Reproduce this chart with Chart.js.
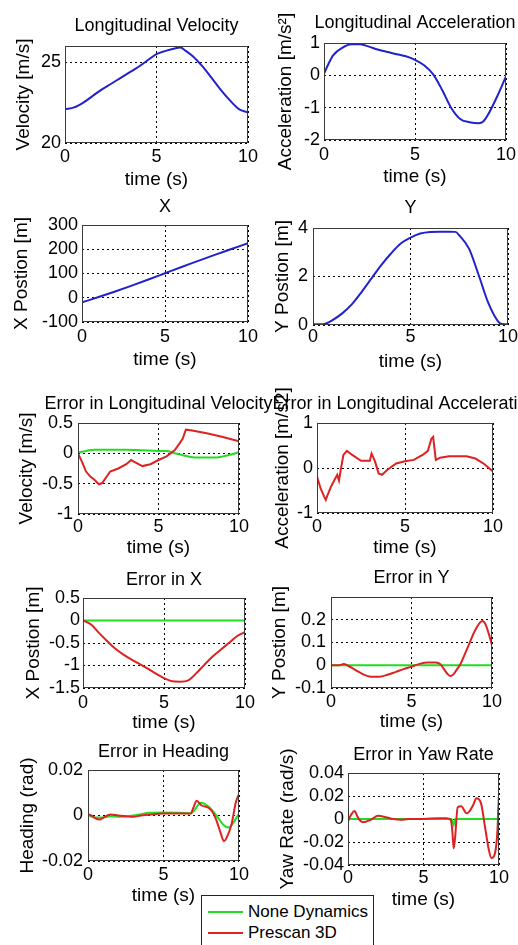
<!DOCTYPE html>
<html><head><meta charset="utf-8">
<script src="https://cdn.jsdelivr.net/npm/chart.js@4.4.0/dist/chart.umd.min.js"></script>
<style>
html,body{margin:0;padding:0;background:#fff;width:518px;height:945px;overflow:hidden;position:relative;font-family:"Liberation Sans",Arial,sans-serif;}
canvas{position:absolute;}
#legend{position:absolute;left:201px;top:895px;width:171px;height:60px;border:1px solid #222;background:#fff;font-size:17px;color:#000;}
#legend .ln{position:absolute;left:6px;width:35px;height:2px;}
#legend .lt{position:absolute;left:46px;height:20px;line-height:20px;white-space:nowrap;}
</style>
</head><body>
<div id="legend">
  <div class="ln" style="top:15px;background:#22dd22"></div><div class="lt" style="top:6px">None Dynamics</div>
  <div class="ln" style="top:36px;background:#dd2222"></div><div class="lt" style="top:27px">Prescan 3D</div>
</div>
<script>
const FONT = '"Liberation Sans", Arial, sans-serif';
const BLUE = '#2222cc', GREEN = '#22dd22', RED = '#dd2222';

// common x ticks
const xTicks = [0, 5, 10];

// Longitudinal Velocity
const t1 = [0,0.5,1,1.5,2,2.5,3,3.5,4,4.5,5,5.5,6,6.3,6.6,7,7.5,8,8.5,9,9.5,10];
const v1 = [22.08,22.2,22.5,22.9,23.3,23.65,24.0,24.35,24.7,25.1,25.5,25.7,25.85,25.9,25.7,25.35,24.75,24.04,23.3,22.65,22.1,21.9];
const yTicks1 = [20, 25];

// Longitudinal Acceleration
const t2 = [0,0.25,0.5,1,1.5,2,2.5,3,3.5,4,4.5,5,5.5,6,6.5,7,7.5,8,8.5,8.75,9,9.5,10];
const a2 = [0.05,0.36,0.62,0.85,0.96,0.96,0.88,0.79,0.72,0.65,0.59,0.48,0.31,0.03,-0.46,-1.02,-1.36,-1.45,-1.48,-1.43,-1.23,-0.67,-0.03];
const yTicks2 = [-2, -1, 0, 1];

// X position
const t3 = [0,1,2,3,4,5,6,7,8,9,10];
const x3 = [-19,3,26,50,75,101,127,152,177,201,225];
const yTicks3 = [-100, 0, 100, 200, 300];

// Y position
const t4 = [0,0.5,0.7,1,1.5,2,2.5,3,3.5,4,4.5,5,5.5,6,6.5,7,7.3,7.5,8,8.5,9,9.5,9.7,10];
const y4 = [0.03,0.03,0.07,0.2,0.48,0.86,1.37,1.92,2.47,2.95,3.36,3.6,3.77,3.84,3.85,3.85,3.84,3.7,3.15,2.05,0.89,0.14,0.04,0.03];
const yTicks4 = [0, 2, 4];

// Error in Longitudinal Velocity
const t5g = [0,0.5,1,2,3,4,5,5.5,6,6.5,7,7.5,8,8.5,9,9.5,10];
const g5 = [0.01,0.04,0.06,0.06,0.06,0.05,0.04,0.04,0.0,-0.03,-0.06,-0.07,-0.07,-0.07,-0.05,-0.02,0.02];
const t5r = [0,0.25,0.5,0.75,1,1.3,1.5,2,2.5,3,3.3,3.5,4,4.5,5,5.5,6,6.3,6.5,6.7,7,8,9,10];
const r5 = [0,-0.14,-0.3,-0.38,-0.43,-0.51,-0.49,-0.3,-0.25,-0.18,-0.11,-0.14,-0.21,-0.18,-0.11,-0.05,0.05,0.16,0.24,0.39,0.38,0.33,0.27,0.2];
const yTicks5 = [-1, -0.5, 0, 0.5];

// Error in Longitudinal Acceleration
const t6 = [0,0.2,0.4,0.5,0.6,0.8,1,1.15,1.25,1.35,1.5,1.7,2,2.5,3,3.1,3.3,3.5,3.7,4,4.5,5,5.5,6,6.3,6.5,6.6,6.75,7,7.5,8,8.5,9,9.5,10];
const r6 = [-0.19,-0.45,-0.63,-0.71,-0.6,-0.41,-0.26,-0.15,-0.28,-0.04,0.29,0.38,0.29,0.16,0.16,0.32,0.14,-0.12,-0.15,-0.04,0.1,0.15,0.18,0.29,0.38,0.65,0.69,0.18,0.23,0.26,0.26,0.26,0.21,0.09,-0.08];
const yTicks6 = [-1, 0, 1];

// Error in X
const t7g = [0, 10];
const g7 = [0, 0];
const t7r = [0,0.5,1,1.5,2,2.5,3,3.5,4,4.5,5,5.5,6,6.5,7,7.5,8,8.5,9,9.5,10];
const r7 = [0,-0.09,-0.28,-0.46,-0.63,-0.76,-0.87,-0.97,-1.07,-1.18,-1.28,-1.35,-1.36,-1.33,-1.17,-0.98,-0.8,-0.65,-0.5,-0.35,-0.26];
const yTicks7 = [-1.5, -1, -0.5, 0, 0.5];

// Error in Y
const t8g = [0, 10];
const g8 = [0, 0];
const t8r = [0,0.5,0.8,1,1.5,2,2.5,3,3.5,4,4.5,5,5.5,6,6.5,6.8,7,7.2,7.4,7.6,7.8,8,8.5,9,9.4,9.6,10];
const r8 = [0,0,0.005,0,-0.02,-0.04,-0.05,-0.05,-0.042,-0.03,-0.017,-0.006,0.006,0.012,0.012,0.004,-0.015,-0.035,-0.047,-0.04,-0.02,0,0.08,0.16,0.195,0.18,0.089];
const yTicks8 = [-0.1, 0, 0.1, 0.2];

// Error in Heading
const t9g = [0,0.5,1,1.5,2,3,3.5,4,5,6,6.8,7,7.5,8,8.5,9,9.3,9.5,10];
const g9 = [0.0001,-0.0009,-0.0009,-0.0003,-0.0006,0,0.0006,0.0012,0.0013,0.0012,0.0009,0.002,0.0056,0.0038,0,-0.0043,-0.0053,-0.0043,0.0009];
const t9r = [0,0.3,0.5,0.8,1,1.5,2,2.5,3,3.5,4,5,6,6.8,7,7.2,7.5,8,8.3,8.5,8.8,9,9.2,9.5,9.8,10];
const r9 = [0.0006,-0.0003,-0.0013,-0.0018,-0.001,0.0004,0,-0.0003,-0.0006,0,0.0003,0.0009,0.0009,0.0009,0.0038,0.0065,0.0045,0.0033,0.001,-0.002,-0.008,-0.0113,-0.0095,-0.004,0.006,0.0094];
const yTicks9 = [-0.02, 0, 0.02];

// Error in Yaw Rate
const t10g = [0,6.85,7.0,7.1,10];
const g10 = [0,0,-0.005,0,0];
const t10r = [0,0.2,0.44,0.6,0.8,1,1.5,2,2.5,3,3.5,4,5,6,6.5,6.8,6.9,7,7.1,7.26,7.5,7.85,8,8.3,8.5,8.8,9.07,9.3,9.5,9.73,9.9,9.95,10];
const r10 = [-0.002,0.0036,0.007,0.0028,-0.0013,-0.0028,-0.0007,0.0028,0.0016,0,-0.0007,0,0,0.0007,0.0007,-0.0007,-0.009,-0.0255,-0.015,0.01,0.011,0.005,0.006,0.0124,0.018,0.014,-0.0065,-0.025,-0.034,-0.03,-0.0095,0.008,0.0225];
const yTicks10 = [-0.04, -0.02, 0, 0.02, 0.04];

const panels = [
  {title:'Longitudinal Velocity', ylabel:'Velocity [m/s]', ymin:20, ymax:26, yticks:yTicks1,
   series:[{x:t1,y:v1,c:BLUE,smooth:true}],
   b:{cx:0,cy:0,cw:259,ch:192,L:65,T:46,R:248,B:143,titleY:26,xtickY:157,xtitleY:180,ylabelX:24,ytickR:61}},
  {title:'Longitudinal Acceleration', ylabel:'Acceleration [m/s\u00B2]', ymin:-2, ymax:1, yticks:yTicks2,
   series:[{x:t2,y:a2,c:BLUE,smooth:true}],
   b:{cx:259,cy:0,cw:259,ch:192,L:324,T:43,R:506,B:140,titleY:23,xtickY:155,xtitleY:177,ylabelX:286,ytickR:320}},
  {title:'X', ylabel:'X Postion [m]', ymin:-100, ymax:300, yticks:yTicks3,
   series:[{x:t3,y:x3,c:BLUE,smooth:true}],
   b:{cx:0,cy:192,cw:259,ch:185,L:82,T:225,R:248,B:322,titleY:207,xtickY:337,xtitleY:360,ylabelX:22,ytickR:78}},
  {title:'Y', ylabel:'Y Postion [m]', ymin:0, ymax:4, yticks:yTicks4,
   series:[{x:t4,y:y4,c:BLUE,smooth:true}],
   b:{cx:259,cy:192,cw:259,ch:185,L:313,T:228,R:508,B:325,titleY:208,xtickY:337,xtitleY:362,ylabelX:283,ytickR:308}},
  {title:'Error in Longitudinal Velocity', ylabel:'Velocity [m/s]', ymin:-1, ymax:0.5, yticks:yTicks5,
   series:[{x:t5r,y:r5,c:RED,smooth:false},{x:t5g,y:g5,c:GREEN,smooth:true}],
   b:{cx:0,cy:380,cw:276,ch:180,L:78,T:423,R:239,B:514,titleY:404,xtickY:527,xtitleY:548,ylabelX:27,ytickR:73}},
  {title:'Error in Longitudinal Acceleration', ylabel:'Acceleration [m/s2]', ymin:-1, ymax:1, yticks:yTicks6,
   series:[{x:t6,y:r6,c:RED,smooth:false}],
   b:{cx:259,cy:380,cw:259,ch:180,L:317,T:423,R:493,B:513,titleY:404,xtickY:527,xtitleY:548,ylabelX:283,ytickR:313}},
  {title:'Error in X', ylabel:'X Postion [m]', ymin:-1.5, ymax:0.5, yticks:yTicks7,
   series:[{x:t7r,y:r7,c:RED,smooth:true},{x:t7g,y:g7,c:GREEN,smooth:false}],
   b:{cx:0,cy:562,cw:259,ch:175,L:83,T:598,R:245,B:688,titleY:580,xtickY:703,xtitleY:723,ylabelX:34,ytickR:80}},
  {title:'Error in Y', ylabel:'Y Postion [m]', ymin:-0.1, ymax:0.3, yticks:yTicks8,
   series:[{x:t8r,y:r8,c:RED,smooth:true},{x:t8g,y:g8,c:GREEN,smooth:false}],
   b:{cx:259,cy:562,cw:259,ch:175,L:331,T:597,R:492,B:688,titleY:578,xtickY:702,xtitleY:722,ylabelX:280,ytickR:326}},
  {title:'Error in Heading', ylabel:'Heading (rad)', ymin:-0.02, ymax:0.02, yticks:yTicks9,
   series:[{x:t9r,y:r9,c:RED,smooth:true},{x:t9g,y:g9,c:GREEN,smooth:true}],
   b:{cx:0,cy:737,cw:259,ch:175,L:88,T:770,R:239,B:861,titleY:752,xtickY:875,xtitleY:896,ylabelX:28,ytickR:83}},
  {title:'Error in Yaw Rate', ylabel:'Yaw Rate (rad/s)', ymin:-0.04, ymax:0.04, yticks:yTicks10,
   series:[{x:t10r,y:r10,c:RED,smooth:true},{x:t10g,y:g10,c:GREEN,smooth:false}],
   b:{cx:259,cy:737,cw:259,ch:178,L:348,T:773,R:499,B:865,titleY:755,xtickY:878,xtitleY:900,ylabelX:288,ytickR:344}}
];

const TICK_SIZE = 18, LABEL_SIZE = 19, TITLE_SIZE = 18;
const TICK_LH = TICK_SIZE * 1.2, LABEL_LH = LABEL_SIZE * 1.2;

const titlePlugin = {
  id: 'panelTitle',
  afterDraw(chart, args, opts) {
    const ctx = chart.ctx, ca = chart.chartArea;
    ctx.save();
    ctx.font = TITLE_SIZE + 'px ' + FONT;
    ctx.fillStyle = '#000';
    ctx.textAlign = 'center';
    ctx.textBaseline = 'middle';
    ctx.fillText(opts.text, (ca.left + ca.right) / 2, opts.y);
    ctx.restore();
  }
};
const boxPlugin = {
  id: 'plotBox',
  afterDatasetsDraw(chart) {
    const ctx = chart.ctx, ca = chart.chartArea;
    ctx.save();
    ctx.strokeStyle = '#3a3a3a';
    ctx.lineWidth = 1;
    ctx.setLineDash([]);
    ctx.strokeRect(ca.left + 0.5, ca.top + 0.5, ca.right - ca.left - 1, ca.bottom - ca.top - 1);
    ctx.restore();
  }
};

panels.forEach(p => {
  const b = p.b;
  const cv = document.createElement('canvas');
  cv.width = b.cw; cv.height = b.ch;
  cv.style.left = b.cx + 'px'; cv.style.top = b.cy + 'px';
  cv.style.width = b.cw + 'px'; cv.style.height = b.ch + 'px';
  document.body.appendChild(cv);
  const yW = b.L - b.cx, xH = b.cy + b.ch - b.B;
  new Chart(cv, {
    type: 'line',
    data: {
      datasets: p.series.map(s => ({
        data: s.x.map((x, i) => ({x: x, y: s.y[i]})),
        borderColor: s.c, backgroundColor: s.c, borderWidth: 2,
        pointRadius: 0, fill: false,
        cubicInterpolationMode: s.smooth ? 'monotone' : 'default', tension: 0
      }))
    },
    options: {
      responsive: false, animation: false, devicePixelRatio: 1,
      layout: {padding: {left: 0, right: b.cx + b.cw - b.R, top: b.T - b.cy, bottom: 0}},
      plugins: {legend: {display: false}, tooltip: {enabled: false}, title: {display: false},
                panelTitle: {text: p.title, y: b.titleY - b.cy}},
      scales: {
        x: {
          type: 'linear', min: 0, max: 10,
          afterBuildTicks: s => { s.ticks = xTicks.map(v => ({value: v})); },
          afterFit: s => { s.height = xH; s.paddingLeft = 0; s.paddingRight = 0; },
          ticks: {autoSkip: false, maxRotation: 0, minRotation: 0, padding: b.xtickY - b.B - TICK_LH / 2,
                  color: '#000', font: {family: FONT, size: TICK_SIZE}, callback: v => String(v)},
          grid: {color: '#000', lineWidth: 1, drawTicks: false},
          border: {display: false, dash: [2, 3]},
          title: {display: true, text: 'time (s)', color: '#000', font: {family: FONT, size: LABEL_SIZE},
                  padding: {top: 0, bottom: Math.max(0, b.cy + b.ch - b.xtitleY - LABEL_LH / 2)}}
        },
        y: {
          type: 'linear', min: p.ymin, max: p.ymax,
          afterBuildTicks: s => { s.ticks = p.yticks.map(v => ({value: v})); },
          afterFit: s => { s.width = yW; s.paddingTop = 0; s.paddingBottom = 0; },
          ticks: {autoSkip: false, padding: b.L - b.ytickR, color: '#000',
                  font: {family: FONT, size: TICK_SIZE}, callback: v => String(v)},
          grid: {color: '#000', lineWidth: 1, drawTicks: false},
          border: {display: false, dash: [2, 3]},
          title: {display: true, text: p.ylabel, color: '#000', font: {family: FONT, size: LABEL_SIZE},
                  padding: {top: Math.max(0, b.ylabelX - b.cx - LABEL_LH / 2), bottom: 0}}
        }
      }
    },
    plugins: [titlePlugin, boxPlugin]
  });
});
</script>
</body></html>
